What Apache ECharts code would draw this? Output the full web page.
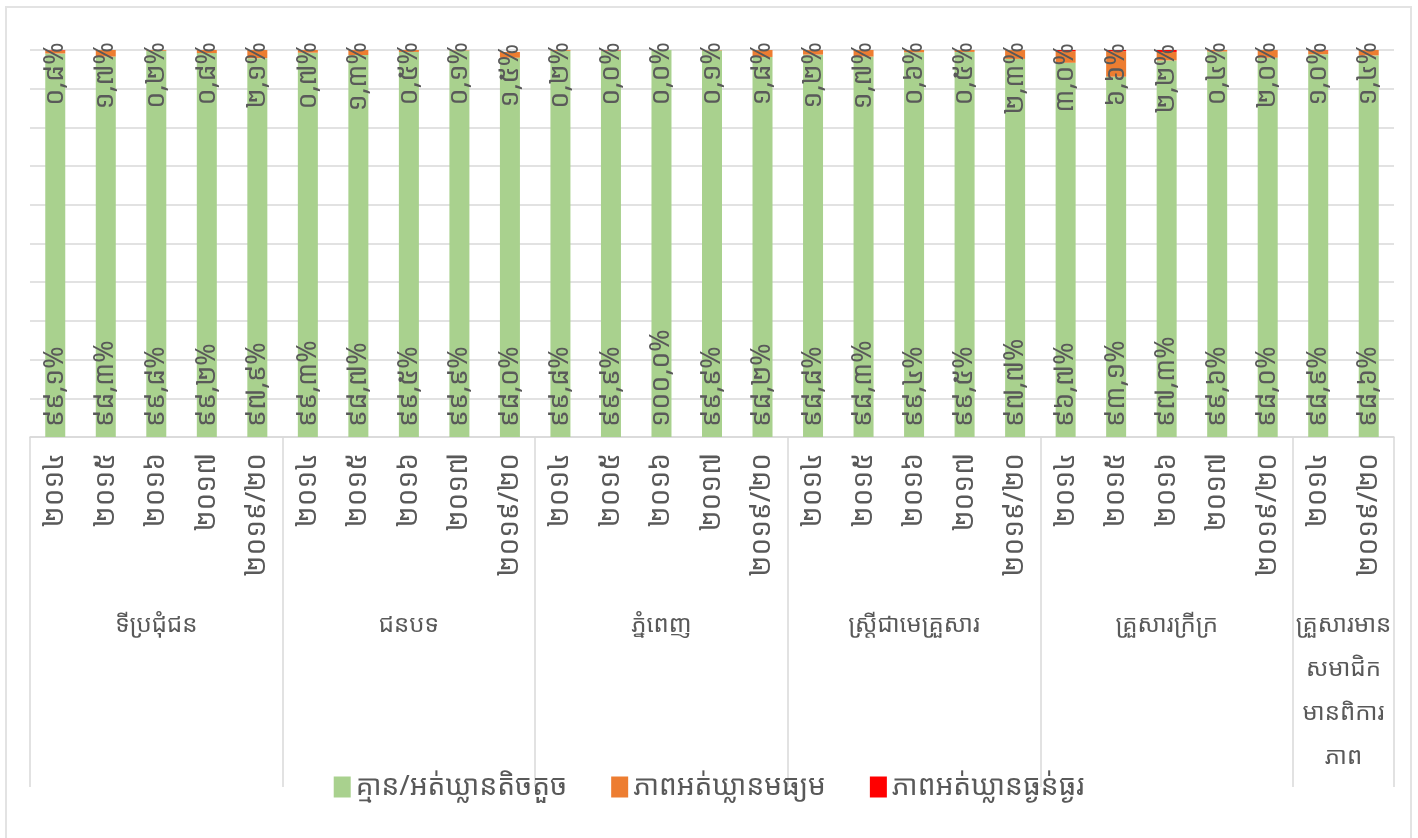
<!DOCTYPE html>
<html>
<head>
<meta charset="utf-8">
<script src="https://cdn.jsdelivr.net/npm/echarts@6/dist/echarts.min.js"></script>
<style>
  body { margin: 0; background: #fff; }
  #chart { width: 1418px; height: 838px; }
  #frame {
    position: absolute; left: 5px; top: 6px; width: 1403px; height: 840px;
    border: 2px solid #e3e3e3; pointer-events: none;
  }
</style>
</head>
<body>
<div id="chart"></div>
<div id="frame"></div>
<script>
const groups = ["ទីប្រជុំជន", "ជនបទ", "ភ្នំពេញ", "ស្ត្រីជាមេគ្រួសារ", "គ្រួសារក្រីក្រ", "គ្រួសារមាន\nសមាជិក\nមានពិការ\nភាព"];
const groupSizes = [5, 5, 5, 5, 5, 2];
const years = [
  "២០១៤", "២០១៥", "២០១៦", "២០១៧", "២០១៩/២០",
  "២០១៤", "២០១៥", "២០១៦", "២០១៧", "២០១៩/២០",
  "២០១៤", "២០១៥", "២០១៦", "២០១៧", "២០១៩/២០",
  "២០១៤", "២០១៥", "២០១៦", "២០១៧", "២០១៩/២០",
  "២០១៤", "២០១៥", "២០១៦", "២០១៧", "២០១៩/២០",
  "២០១៤", "២០១៩/២០",
];
const seriesNames = ["គ្មាន/អត់ឃ្លានតិចតួច", "ភាពអត់ឃ្លានមធ្យម", "ភាពអត់ឃ្លានធ្ងន់ធ្ងរ"];
const noneMild = [
  99.1, 98.3, 99.8, 99.2, 97.9,
  99.3, 98.7, 99.5, 99.9, 98.0,
  99.8, 99.9, 100.0, 99.9, 98.2,
  98.8, 98.3, 99.4, 99.5, 97.7,
  96.7, 93.1, 97.3, 99.6, 98.0,
  98.9, 98.6,
];
const moderate = [
  0.8, 1.7, 0.2, 0.8, 2.1,
  0.7, 1.3, 0.5, 0.1, 1.5,
  0.2, 0.0, 0.0, 0.1, 1.8,
  1.2, 1.7, 0.6, 0.5, 2.3,
  3.0, 6.6, 2.2, 0.4, 2.0,
  1.0, 1.4,
];
const severe = [
  0.1, 0.0, 0.0, 0.0, 0.0,
  0.0, 0.0, 0.1, 0.0, 0.0,
  0.1, 0.1, 0.0, 0.0, 0.0,
  0.0, 0.1, 0.0, 0.0, 0.0,
  0.3, 0.3, 0.5, 0.0, 0.0,
  0.1, 0.0,
];
const colors = ["#a9d18e", "#ed7d31", "#ff0000"];

const KHMER_DIGITS = "០១២៣៤៥៦៧៨៩";
const FONT = "'Noto Sans Khmer', 'Khmer OS', 'Noto Sans', sans-serif";
const TEXT = "#595959";
const LINE = "#d9d9d9";

function khmerPercent(value) {
  const text = Number(value).toFixed(1).replace(".", ",");
  return text.replace(/\d/g, (d) => KHMER_DIGITS[d]) + "%";
}

// second axis: half-category slots so group names can sit between bars
const slotLabels = [];
const boundaries = [0];
let pos = 0;
groupSizes.forEach((size) => {
  pos += size * 2;
  boundaries.push(pos);
});
for (let i = 0; i <= pos; i++) slotLabels.push("");
let start = 0;
groupSizes.forEach((size, i) => {
  slotLabels[start + size] = groups[i];
  start += size * 2;
});

const chart = echarts.init(document.getElementById("chart"), undefined, { renderer: "canvas" });
chart.setOption({
  animation: false,
  textStyle: { fontFamily: FONT },
  color: colors,
  grid: { left: 30, right: 24, top: 50, bottom: 401 },
  legend: {
    data: seriesNames,
    left: "center",
    top: 768,
    icon: "rect",
    itemWidth: 17,
    itemHeight: 21,
    itemGap: 44,
    textStyle: { fontSize: 28, color: TEXT, fontFamily: FONT },
  },
  xAxis: [
    {
      type: "category",
      data: years,
      axisLine: { lineStyle: { color: LINE, width: 1.5 } },
      axisTick: { show: false },
      axisLabel: {
        interval: 0,
        rotate: 90,
        margin: 16,
        fontSize: 28,
        color: TEXT,
        fontFamily: FONT,
      },
    },
    {
      type: "category",
      data: slotLabels,
      boundaryGap: false,
      position: "bottom",
      axisLine: { show: false },
      axisTick: {
        show: true,
        interval: (index) => boundaries.includes(index),
        length: 350,
        lineStyle: { color: LINE, width: 1.5 },
      },
      axisLabel: {
        interval: 0,
        margin: 166,
        fontSize: 24,
        lineHeight: 44,
        color: TEXT,
        fontFamily: FONT,
        align: "center",
      },
    },
  ],
  yAxis: {
    type: "value",
    min: 0,
    max: 100,
    interval: 10,
    axisLabel: { show: false },
    axisLine: { show: false },
    axisTick: { show: false },
    splitLine: { lineStyle: { color: LINE, width: 1.5 } },
  },
  series: [
    {
      name: seriesNames[0],
      type: "bar",
      stack: "total",
      barWidth: 20,
      data: noneMild,
      label: {
        show: true,
        position: "insideBottom",
        rotate: 90,
        align: "left",
        verticalAlign: "middle",
        distance: 10,
        fontSize: 27,
        color: TEXT,
        fontFamily: FONT,
        formatter: (p) => khmerPercent(p.value),
      },
    },
    {
      name: seriesNames[1],
      type: "bar",
      stack: "total",
      barWidth: 20,
      data: moderate,
      label: {
        show: true,
        position: "insideTop",
        rotate: 90,
        align: "right",
        verticalAlign: "middle",
        distance: -8,
        fontSize: 27,
        color: TEXT,
        fontFamily: FONT,
        formatter: (p) => khmerPercent(p.value),
      },
    },
    {
      name: seriesNames[2],
      type: "bar",
      stack: "total",
      barWidth: 20,
      data: severe,
    },
  ],
});
</script>
</body>
</html>
